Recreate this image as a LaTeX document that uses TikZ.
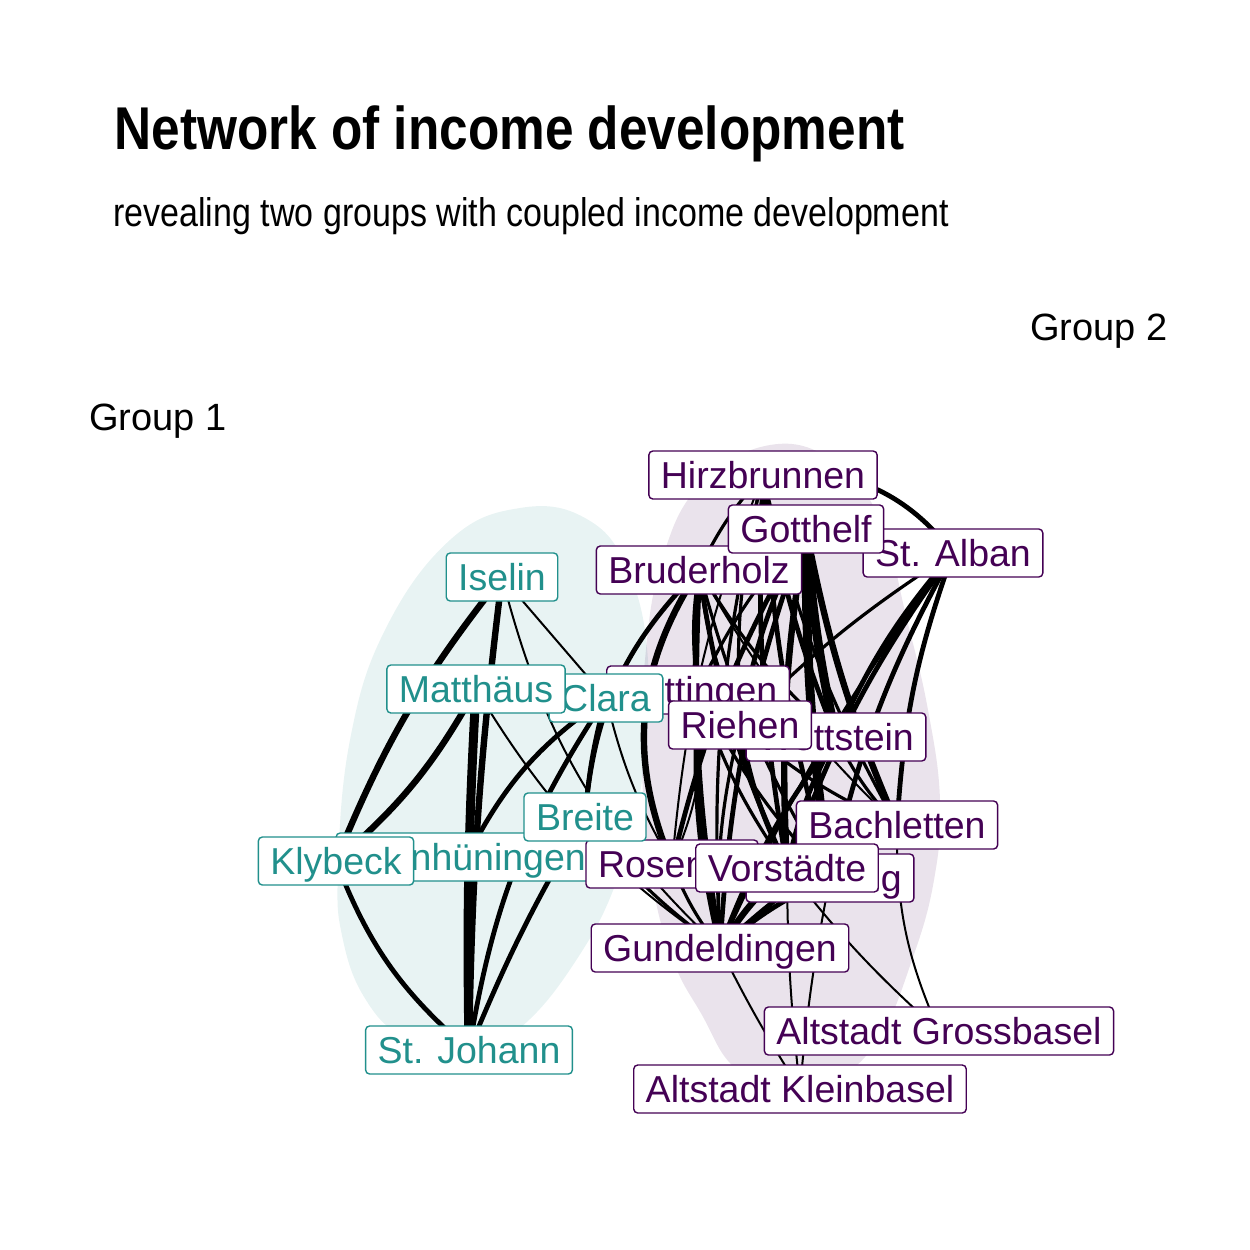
\documentclass[tikz,border=0pt]{standalone}
\usepackage{fontspec}
\setmainfont{Liberation Sans}
\newfontfamily\titlefont{Liberation Sans Bold}[FakeStretch=0.85]
\newfontfamily\subfont{Liberation Sans}[FakeStretch=0.85]
\definecolor{gone}{HTML}{21908C}
\definecolor{gtwo}{HTML}{440154}
\pgfdeclarelayer{hulls}
\pgfdeclarelayer{edges}
\pgfsetlayers{hulls,edges,main}
\begin{document}
\begin{tikzpicture}[x=0.5pt,y=-0.5pt,
  lab/.style={draw, fill=white, rounded corners=2pt, line width=0.7pt, inner xsep=6pt, inner ysep=0pt, minimum height=24pt, text height=15.5pt, text depth=2.5pt, font=\fontsize{18.75}{20}\selectfont},
  ga/.style={lab, draw=gone, text=gone},
  gb/.style={lab, draw=gtwo, text=gtwo},
  ed/.style={draw=black, line cap=round},
  w1/.style={ed, line width=1pt},
  w2/.style={ed, line width=1.6pt},
  w3/.style={ed, line width=2.4pt},
  w4/.style={ed, line width=3.2pt},
  w5/.style={ed, line width=4.5pt},
  vr/.style={bend right=#1}, vr/.default=8,
  plain/.style={inner sep=0pt, font=\fontsize{19}{20}\selectfont}
]
\useasboundingbox (0,0) rectangle (1250,1250);

% titles
\node[plain, anchor=base west, font={\titlefont\fontsize{30.2}{32}\selectfont}] (title) at (114,149) {Network of income development};
\node[plain, anchor=base west, font={\subfont\fontsize{20}{22}\selectfont}] (subtitle) at (113,226) {revealing two groups with coupled income development};
\node[plain, anchor=base east] (grouptwo) at (1168,340) {Group 2};
\node[plain, anchor=base west] (groupone) at (89,430) {Group 1};

% labels (drawing order sets overlaps)
\node[gb] (hirz) at (763,475) {Hirzbrunnen};
\node[gb] (bruder) at (699,570) {Bruderholz};
\node[gb] (alban) at (953,553) {St. Alban};
\node[gb] (gott) at (806,529) {Gotthelf};
\node[gb] (bett) at (698,690) {Bettingen};
\node[gb] (wett) at (836,737) {Wettstein};
\node[gb] (riehen) at (740,725) {Riehen};
\node[ga] (clara) at (606,698) {Clara};
\node[ga] (matthaus) at (476,689) {Matthäus};
\node[ga] (iselin) at (502,577) {Iselin};
\node[gb] (bach) at (897,825) {Bachletten};
\node[ga] (kleinh) at (467,857) {Kleinhüningen};
\node[ga] (klybeck) at (336,861) {Klybeck};
\node[gb] (rosen) at (672,864) {Rosental};
\node[ga] (breite) at (585,817) {Breite};
\node[gb] (amring) at (830,878) {Am Ring};
\node[gb] (vorst) at (787,868) {Vorstädte};
\node[gb] (gundel) at (720,948) {Gundeldingen};
\node[gb] (altg) at (939,1031) {Altstadt Grossbasel};
\node[gb] (altk) at (800,1089) {Altstadt Kleinbasel};
\node[ga] (stjohann) at (469,1050) {St. Johann};

\begin{pgfonlayer}{hulls}
\fill[white] (0,0) rectangle (1250,1250);
\fill[gone, opacity=0.1] plot[smooth cycle, tension=0.7] coordinates {(520,508) (585,518) (627,568) (648,660) (642,780) (617,880) (575,962) (520,1028) (465,1055) (405,1038) (366,1000) (343,940) (338,870) (350,740) (385,630) (450,540)};
\fill[gtwo, opacity=0.11] plot[smooth cycle, tension=0.7] coordinates {(770,445) (835,462) (880,520) (907,620) (928,710) (940,800) (934,880) (912,960) (878,1040) (830,1082) (778,1086) (733,1066) (702,1015) (673,960) (652,880) (642,770) (645,660) (662,560) (700,485)};
\end{pgfonlayer}

\begin{pgfonlayer}{edges}
% group 1
\draw[w4] (iselin.center) to[vr=8] (klybeck.center);
\draw[w4] (klybeck.center) to[vr=10] (matthaus.center);
\draw[w4] (iselin.center) to[vr=3] (stjohann.center);
\draw[w5] (matthaus.center) to[vr=2] (stjohann.center);
\draw[w1] (iselin.center) to (clara.center);
\draw[w1] (iselin.center) to[vr=16] (gundel.center);
\draw[w1] (matthaus.center) to[vr=12] (gundel.center);
\draw[w3] (clara.center) to[vr=14] (kleinh.center);
\draw[w3] (clara.center) to[vr=5] (breite.center);
\draw[w3] (clara.center) to[vr=12] (stjohann.center);
\draw[w3] (breite.center) to[vr=4] (stjohann.center);
\draw[w3] (klybeck.center) to[vr=14] (stjohann.center);
% between groups
\draw[w3] (bruder.center) to[vr=20] (breite.center);
\draw[w1] (bett.center) to[vr=45] (clara.center);
\draw[w2] (breite.center) to[vr=8] (gundel.center);
\draw[w1] (clara.center) to[vr=8] (rosen.center);
\draw[w1] (breite.center) to (rosen.center);
% group 2
\draw[w5] (gott.center) to[vr=4] (wett.center);
\draw[w5] (gott.center) to[vr=4] (amring.center);
\draw[w4] (gott.center) to[vr=6] (vorst.center);
\draw[w4] (gott.center) to[vr=6] (bach.center);
\draw[w3] (gott.center) to[vr=8] (gundel.center);
\draw[w3] (gott.center) to[vr=8] (riehen.center);
\draw[w3] (gott.center) to[vr=8] (rosen.center);
\draw[w2] (gott.center) to[vr=8] (bett.center);
\draw[w2] (alban.center) to[vr=10] (gott.center);
\draw[w3] (alban.center) to[vr=30] (hirz.center);
\draw[w3] (hirz.center) to[vr=6] (vorst.center);
\draw[w3] (hirz.center) to[vr=6] (amring.center);
\draw[w3] (hirz.center) to[vr=6] (wett.center);
\draw[w2] (hirz.center) to[vr=8] (gundel.center);
\draw[w2] (hirz.center) to[vr=8] (bruder.center);
\draw[w2] (hirz.center) to[vr=8] (riehen.center);
\draw[w2] (hirz.center) to[vr=8] (bach.center);
\draw[w1] (hirz.center) to[vr=8] (rosen.center);
\draw[w4] (bruder.center) to[vr=6] (gundel.center);
\draw[w4] (bruder.center) to[vr=28] (rosen.center);
\draw[w3] (bruder.center) to[vr=8] (vorst.center);
\draw[w2] (bruder.center) to[vr=8] (amring.center);
\draw[w2] (bruder.center) to[vr=8] (riehen.center);
\draw[w2] (bruder.center) to[vr=8] (bett.center);
\draw[w2] (bruder.center) to[vr=8] (wett.center);
\draw[w1] (bruder.center) to[vr=8] (bach.center);
\draw[w2] (bruder.center) to[vr=8] (gott.center);
\draw[w3] (alban.center) to[vr=8] (wett.center);
\draw[w3] (alban.center) to[vr=8] (bach.center);
\draw[w3] (alban.center) to[vr=8] (amring.center);
\draw[w3] (alban.center) to[vr=8] (vorst.center);
\draw[w2] (alban.center) to[vr=6] (riehen.center);
\draw[w2] (alban.center) to[vr=6] (gundel.center);
\draw[w3] (bett.center) to[vr=8] (gundel.center);
\draw[w1] (rosen.center) to[vr=15] (bett.center);
\draw[w2] (bett.center) to[vr=8] (vorst.center);
\draw[w2] (bett.center) to[vr=8] (amring.center);
\draw[w3] (riehen.center) to[vr=8] (vorst.center);
\draw[w2] (riehen.center) to[vr=8] (gundel.center);
\draw[w2] (riehen.center) to[vr=8] (bach.center);
\draw[w3] (wett.center) to[vr=8] (vorst.center);
\draw[w3] (wett.center) to[vr=8] (gundel.center);
\draw[w2] (wett.center) to[vr=8] (bach.center);
\draw[w3] (bach.center) to[vr=8] (vorst.center);
\draw[w3] (bach.center) to[vr=8] (gundel.center);
\draw[w3] (amring.center) to[vr=8] (gundel.center);
\draw[w4] (vorst.center) to[vr=8] (gundel.center);
\draw[w2] (rosen.center) to[vr=8] (gundel.center);
\draw[w2] (rosen.center) to[vr=8] (vorst.center);
\draw[w1] (vorst.center) to[vr=3] (altk.center);
\draw[w1] (amring.center) to[vr=3] (altk.center);
\draw[w1] (gundel.center) to[vr=3] (altk.center);
\draw[w1] (vorst.center) to[vr=5] (altg.center);
\draw[w1] (bach.center) to[vr=12] (altg.center);
\end{pgfonlayer}
\end{tikzpicture}
\end{document}
